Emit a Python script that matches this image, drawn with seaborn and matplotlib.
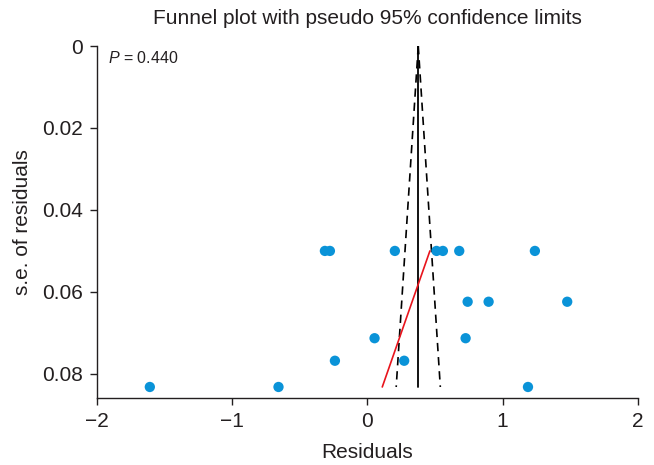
import matplotlib
matplotlib.use("Agg")
import matplotlib.pyplot as plt
import seaborn as sns
import pandas as pd

# Data
residuals = [-1.608, -0.657, -0.314, -0.277, -0.240, 0.203, 0.511, 0.558, 0.679,
             1.238, 0.741, 0.896, 1.477, 0.053, 0.726, 0.272, 1.187]
se_residuals = [0.0832, 0.0832, 0.0500, 0.0500, 0.0768, 0.0500, 0.0500, 0.0500, 0.0500,
                0.0500, 0.0624, 0.0624, 0.0624, 0.0713, 0.0713, 0.0768, 0.0832]
pooled = 0.376
se_max = 0.0832
ci_z = 1.96
reg_x = [0.110, 0.462]
reg_se = [0.0832, 0.0500]
p_text = "0.440"

x_ticks = [-2, -1, 0, 1, 2]
y_ticks = [0, 0.02, 0.04, 0.06, 0.08]
y_ticklabels = ["0", "0.02", "0.04", "0.06", "0.08"]

sns.set_theme(style="ticks")
plt.rcParams['font.family'] = ['Liberation Sans', 'DejaVu Sans']
plt.rcParams['mathtext.fontset'] = 'custom'
plt.rcParams['mathtext.it'] = 'Liberation Sans:italic'
plt.rcParams['mathtext.rm'] = 'Liberation Sans'

fig = plt.figure(figsize=(6.54, 4.65), dpi=100)
ax = fig.add_axes([0.148, 0.144, 0.8275, 0.757])

df = pd.DataFrame({"Residuals": residuals, "se": se_residuals})

txt = "#231f20"

# funnel lines
ax.plot([pooled, pooled], [0, se_max], color="black", lw=1.3, zorder=2)
ax.plot([pooled, pooled - ci_z * se_max], [0, se_max], color="black", lw=1.2,
        ls=(0, (5, 3.5)), zorder=2)
ax.plot([pooled, pooled + ci_z * se_max], [0, se_max], color="black", lw=1.2,
        ls=(0, (5, 3.5)), zorder=2)
ax.plot(reg_x, reg_se, color="#e8141c", lw=1.2, zorder=3)

sns.scatterplot(data=df, x="Residuals", y="se", ax=ax, color="#0a93d8", s=55,
                edgecolor="none", zorder=4)

ax.set_xlim(-2, 2)
ax.set_ylim(0.0859, 0)
ax.set_xticks(x_ticks)
ax.set_yticks(y_ticks)
ax.set_yticklabels(y_ticklabels)
ax.tick_params(axis="both", labelsize=15, length=5, width=1.0, color=txt,
               labelcolor=txt, direction="out", pad=5)
for s in ["top", "right"]:
    ax.spines[s].set_visible(False)
for s in ["left", "bottom"]:
    ax.spines[s].set_linewidth(1.0)
    ax.spines[s].set_color(txt)

ax.set_xlabel("Residuals", fontsize=15, color=txt, labelpad=9)
ax.set_ylabel("s.e. of residuals", fontsize=15, color=txt, labelpad=7)
ax.set_title("Funnel plot with pseudo 95% confidence limits", fontsize=15,
             color=txt, pad=16)

ax.text(0.02, 0.99, "$\\mathit{P}$ = " + p_text, transform=ax.transAxes, fontsize=11.5,
        va="top", ha="left", color=txt)

fig.savefig("out.png", dpi=100)
